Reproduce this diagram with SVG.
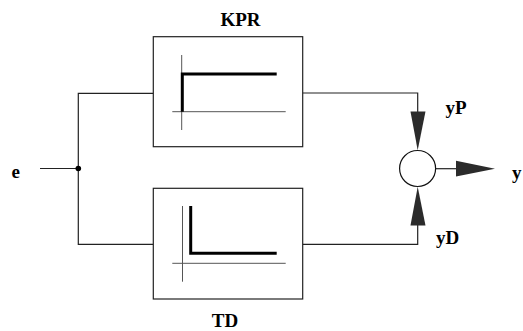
<svg xmlns="http://www.w3.org/2000/svg" width="523" height="331" viewBox="0 0 523 331">
<style>
.box{fill:#fff;stroke:#222;stroke-width:1.2}
.axis{stroke:#555;stroke-width:1;fill:none}
.step{stroke:#000;stroke-width:3;fill:none}
.wire{stroke:#222;stroke-width:1.2;fill:none}
.arr{fill:#2b2b2b;stroke:none}
.lbl{font-family:"Liberation Serif","Times New Roman",serif;font-weight:bold;font-size:19px;fill:#000}
</style>
<rect width="523" height="331" fill="#fff"/>
<g id="connectors">
<line class="wire" x1="40" y1="168.5" x2="78.3" y2="168.5"/>
<polyline class="wire" points="153.3,93.3 78.3,93.3 78.3,244.3 153.3,244.3"/>
<circle cx="78.3" cy="168.5" r="2.8" fill="#000"/>
<polyline class="wire" points="302.7,93 417.7,93 417.7,112"/>
<polygon class="arr" points="410.5,111.5 425.5,111.5 417.7,150.3"/>
<polyline class="wire" points="302.7,244.3 417.7,244.3 417.7,225"/>
<polygon class="arr" points="410.5,225.5 425.5,225.5 417.7,186.7"/>
<line class="wire" x1="435.5" y1="168.7" x2="457" y2="168.7"/>
<polygon class="arr" points="456,160.8 456,176.6 495,168.7"/>
</g>
<g id="KPR">
<rect class="box" x="153.3" y="36.7" width="149.4" height="110"/>
<line class="axis" x1="181.7" y1="55" x2="181.7" y2="130"/>
<line class="axis" x1="172.3" y1="111.7" x2="285.7" y2="111.7"/>
<polyline class="step" points="182.3,111.7 182.3,74 276.7,74"/>
<text class="lbl" x="240.5" y="26" text-anchor="middle">KPR</text>
</g>
<g id="TD">
<rect class="box" x="153.3" y="188.3" width="149.4" height="110.7"/>
<line class="axis" x1="182.5" y1="206" x2="182.5" y2="281.7"/>
<line class="axis" x1="172.3" y1="263.3" x2="285.7" y2="263.3"/>
<polyline class="step" points="190.7,206 190.7,253.3 276.7,253.3"/>
<text class="lbl" x="225" y="327" text-anchor="middle">TD</text>
</g>
<g id="sum">
<circle cx="417.6" cy="168.5" r="18" fill="#fff" stroke="#111" stroke-width="1.2"/>
</g>
<g id="labels">
<text class="lbl" x="11.5" y="177.5">e</text>
<text class="lbl" x="445.5" y="113.5">yP</text>
<text class="lbl" x="436" y="243.5">yD</text>
<text class="lbl" x="512" y="179">y</text>
</g>
</svg>
